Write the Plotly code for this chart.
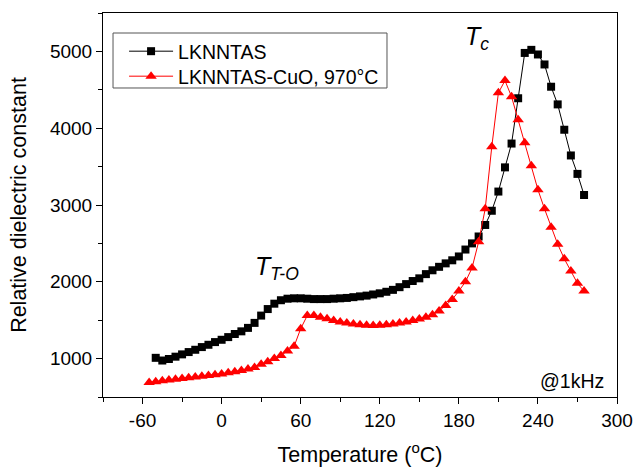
import plotly.graph_objects as go

# ---------------- data ----------------
temp_lknntas = [-50, -45, -40, -35, -30, -25, -20, -15, -10, -5, 0, 5, 10, 15, 20, 25, 30,
                35, 40, 45, 50, 55, 60, 65, 70, 75, 80, 85, 90, 95, 100, 105, 110, 115, 120,
                125, 130, 135, 140, 145, 150, 155, 160, 165, 170, 175, 180, 185, 190, 195,
                200, 205, 210, 215, 220, 225, 230, 235, 240, 245, 250, 255, 260, 265, 270, 275]
eps_lknntas = [1010, 975, 995, 1025, 1055, 1085, 1115, 1150, 1180, 1215, 1245, 1280, 1320,
               1355, 1400, 1465, 1560, 1645, 1715, 1760, 1780, 1785, 1785, 1780, 1775, 1775,
               1775, 1780, 1785, 1790, 1800, 1810, 1820, 1835, 1850, 1870, 1895, 1930, 1970,
               2010, 2045, 2100, 2150, 2195, 2240, 2280, 2330, 2420, 2500, 2590, 2740, 2925,
               3175, 3490, 3800, 4390, 4980, 5020, 4960, 4830, 4540, 4310, 3980, 3645, 3405, 3130]

temp_cuo = [-55, -50, -45, -40, -35, -30, -25, -20, -15, -10, -5, 0, 5, 10, 15, 20, 25, 30,
            35, 40, 45, 50, 55, 60, 65, 70, 75, 80, 85, 90, 95, 100, 105, 110, 115, 120, 125,
            130, 135, 140, 145, 150, 155, 160, 165, 170, 175, 180, 185, 190, 195, 200, 205,
            210, 215, 220, 225, 230, 235, 240, 245, 250, 255, 260, 265, 270, 275]
eps_cuo = [690, 700, 710, 720, 730, 740, 750, 760, 770, 780, 790, 800, 815, 830, 845, 865,
           885, 925, 960, 1000, 1040, 1100, 1160, 1390, 1560, 1560, 1540, 1520, 1495, 1475,
           1462, 1450, 1440, 1435, 1432, 1435, 1440, 1450, 1462, 1478, 1495, 1515, 1540,
           1570, 1620, 1690, 1770, 1880, 2000, 2180, 2520, 2950, 3760, 4460, 4620, 4410,
           4110, 3810, 3510, 3200, 2950, 2710, 2490, 2300, 2140, 1980, 1880]

x_tick_vals = [-60, 0, 60, 120, 180, 240, 300]
x_tick_text = ["-60", "0", "60", "120", "180", "240", "300"]
y_tick_vals = [1000, 2000, 3000, 4000, 5000]
y_tick_text = ["1000", "2000", "3000", "4000", "5000"]

FONT = "Liberation Sans, Arial, sans-serif"

fig = go.Figure()
fig.add_trace(go.Scatter(
    x=temp_lknntas, y=eps_lknntas, mode="lines+markers", name="LKNNTAS",
    line=dict(color="black", width=1),
    marker=dict(symbol="square", size=8, color="black"),
    legend="legend",
))
fig.add_trace(go.Scatter(
    x=temp_cuo, y=eps_cuo, mode="lines+markers", name="LKNNTAS-CuO, 970°C",
    line=dict(color="#ff0000", width=1),
    marker=dict(symbol="triangle-up", size=10, color="#ff0000"),
    legend="legend2",
))

axis_common = dict(
    showline=True, linecolor="black", linewidth=1, mirror=True, automargin=False,
    showgrid=False, zeroline=False, ticks="outside", ticklen=6, tickwidth=1,
    tickcolor="black", tickfont=dict(family=FONT, size=19, color="black"),
)

fig.update_xaxes(
    range=[-90, 300], tickvals=x_tick_vals, ticktext=x_tick_text,
    minor=dict(ticks="outside", ticklen=4, tickwidth=1, tickcolor="black",
               tickvals=[-90, -30, 30, 90, 150, 210, 270]),
    title=dict(text="Temperature (<sup>o</sup>C)", font=dict(family=FONT, size=21.5, color="black"),
               standoff=18),
    **axis_common,
)
fig.update_yaxes(
    range=[500, 5500], tickvals=y_tick_vals, ticktext=y_tick_text,
    minor=dict(ticks="outside", ticklen=4, tickwidth=1, tickcolor="black",
               tickvals=[500, 1500, 2500, 3500, 4500, 5500]),
    title=dict(text="Relative dielectric constant", font=dict(family=FONT, size=21.5, color="black"),
               standoff=17),
    **axis_common,
)

fig.add_annotation(x=194, y=5180, xref="x", yref="y", showarrow=False,
                   text="<i>T</i><sub><i>c</i></sub>",
                   font=dict(family=FONT, size=25, color="black"))
fig.add_annotation(x=42, y=2175, xref="x", yref="y", showarrow=False,
                   text="<i>T</i><sub><i>T-O</i></sub>",
                   font=dict(family=FONT, size=25, color="black"))
fig.add_annotation(x=266, y=712, xref="x", yref="y", showarrow=False,
                   text="@1kHz", font=dict(family=FONT, size=19.5, color="black"))

# legend frame
fig.add_shape(type="rect", xref="paper", yref="paper",
              x0=0.0195, x1=0.5525, y0=0.8047, y1=0.9479,
              line=dict(color="#555555", width=1), fillcolor="white", layer="below")

legend_common = dict(xanchor="left", yanchor="top", bgcolor="rgba(0,0,0,0)", borderwidth=0,
                     font=dict(family=FONT, size=19.5, color="black"), itemwidth=44)

fig.update_layout(
    width=633, height=467,
    margin=dict(l=103, r=16, t=13, b=70),
    paper_bgcolor="white", plot_bgcolor="white",
    font=dict(family=FONT, color="black"),
    showlegend=True,
    legend=dict(x=0.041, y=0.9505, **legend_common),
    legend2=dict(x=0.041, y=0.8854, **legend_common),
)

fig.write_html("out.html")
